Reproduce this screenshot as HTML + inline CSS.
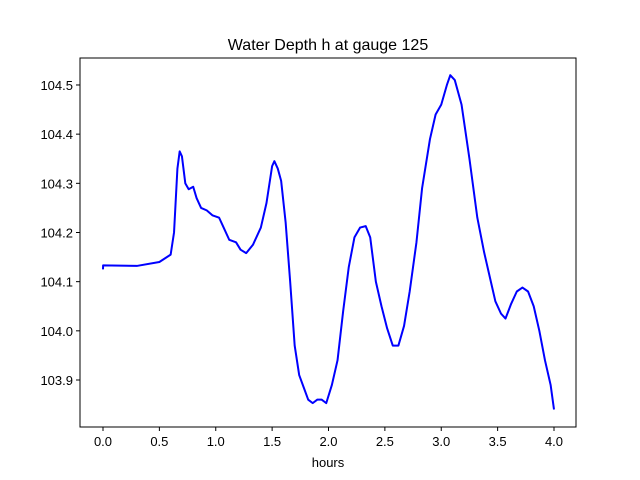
<!DOCTYPE html>
<html><head><meta charset="utf-8"><style>
body{margin:0;background:#fff}
svg{display:block;font-family:"Liberation Sans","DejaVu Sans",sans-serif}
</style></head><body>
<svg id="chart" width="640" height="480">
<rect width="640" height="480" fill="#fff"/>
<text x="328" y="50" font-size="16" text-anchor="middle">Water Depth h at gauge 125</text>
<g id="ticks"></g>
<polyline id="line" fill="none" stroke="#0000ff" stroke-width="2" stroke-linejoin="round"/>
<rect x="80" y="58" width="496" height="369" fill="none" stroke="#000" stroke-width="1"/>
<text x="328" y="467" font-size="13" text-anchor="middle">hours</text>
</svg>
<script>
const hours=[0,0.001,0.3,0.5,0.6,0.63,0.66,0.68,0.7,0.73,0.76,0.8,0.83,0.87,0.92,0.97,1.03,1.07,1.12,1.18,1.22,1.27,1.33,1.4,1.45,1.5,1.52,1.55,1.58,1.62,1.66,1.7,1.74,1.78,1.82,1.86,1.9,1.94,1.98,2.03,2.08,2.13,2.18,2.23,2.28,2.33,2.37,2.42,2.47,2.52,2.57,2.62,2.67,2.72,2.78,2.83,2.9,2.95,3.0,3.05,3.08,3.12,3.18,3.25,3.32,3.38,3.43,3.48,3.53,3.57,3.62,3.67,3.72,3.77,3.82,3.87,3.92,3.97,4.0];
const depth=[104.125,104.133,104.132,104.14,104.155,104.2,104.33,104.365,104.355,104.3,104.288,104.293,104.27,104.25,104.245,104.235,104.23,104.21,104.185,104.18,104.165,104.158,104.175,104.21,104.26,104.335,104.345,104.33,104.305,104.22,104.1,103.97,103.91,103.885,103.86,103.853,103.86,103.86,103.853,103.89,103.94,104.04,104.13,104.19,104.21,104.213,104.19,104.1,104.05,104.005,103.97,103.97,104.01,104.08,104.18,104.29,104.39,104.44,104.46,104.5,104.52,104.51,104.46,104.35,104.23,104.16,104.11,104.06,104.035,104.025,104.055,104.08,104.088,104.08,104.05,104.0,103.94,103.89,103.84];
const xTicks=[0,0.5,1,1.5,2,2.5,3,3.5,4];
const xTickLabels=["0.0","0.5","1.0","1.5","2.0","2.5","3.0","3.5","4.0"];
const yTicks=[103.9,104.0,104.1,104.2,104.3,104.4,104.5];
const yTickLabels=["103.9","104.0","104.1","104.2","104.3","104.4","104.5"];
const X=v=>103+v*112.75;
const Y=v=>380-(v-103.9)*491.7;
const NS="http://www.w3.org/2000/svg";
const g=document.getElementById('ticks');
function mk(t,a){const e=document.createElementNS(NS,t);for(const k in a)e.setAttribute(k,a[k]);g.appendChild(e);return e;}
xTicks.forEach((v,i)=>{
 const l=mk('line',{x1:X(v),x2:X(v),y1:427,y2:431,stroke:'#000'});
 
 
 const t=mk('text',{x:X(v),y:446,'font-size':13,'text-anchor':'middle'});t.textContent=xTickLabels[i];
 
 
});
yTicks.forEach((v,i)=>{
 const l=mk('line',{x1:76,x2:80,y1:Y(v),y2:Y(v),stroke:'#000'});
 
 
 const t=mk('text',{x:73,y:Y(v)+5,'font-size':13,'text-anchor':'end'});t.textContent=yTickLabels[i];
 
 
});
document.getElementById('line').setAttribute('points',hours.map((h,i)=>X(h)+','+Y(depth[i])).join(' '));
</script>
</body></html>
